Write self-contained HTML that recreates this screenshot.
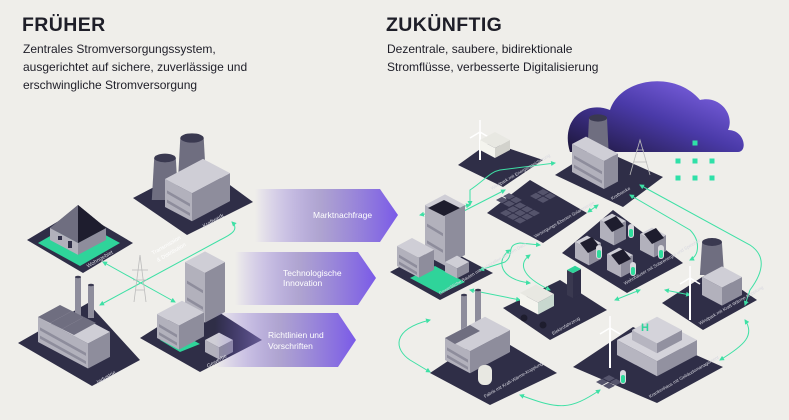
<!DOCTYPE html>
<html><head><meta charset="utf-8"><style>
html,body{margin:0;padding:0;background:#efeeea;}
body{width:789px;height:420px;overflow:hidden;position:relative;font-family:"Liberation Sans",sans-serif;color:#1e1e28;}
h1{position:absolute;margin:0;font-size:19.5px;font-weight:bold;letter-spacing:0.4px;}
p{position:absolute;margin:0;font-size:12px;line-height:18px;}
svg{position:absolute;left:0;top:0;}
</style></head><body>
<svg id="s" width="789" height="420" viewBox="0 0 789 420">
<defs>
<linearGradient id="ag" x1="0" x2="1" y1="0" y2="0"><stop offset="0" stop-color="#7b5ce6" stop-opacity="0"/><stop offset="0.45" stop-color="#9a8cc8" stop-opacity="0.75"/><stop offset="1" stop-color="#7a5ae8"/></linearGradient>
<linearGradient id="cg" x1="0" y1="1" x2="1" y2="0"><stop offset="0" stop-color="#1c1638"/><stop offset="0.5" stop-color="#4a3aa8"/><stop offset="1" stop-color="#8a6cf0"/></linearGradient>
<marker id="m" viewBox="0 0 10 10" refX="8" refY="5" markerWidth="5" markerHeight="5" orient="auto-start-reverse"><path d="M0,0L10,5L0,10z" fill="#3ee0a5"/></marker>
</defs>
<g id="plat" fill="#2f2e47"></g>
<g id="lines" fill="none" stroke="#3ee0a5" stroke-width="1"></g>
<g id="bld"></g>
<g fill="url(#ag)">
<polygon points="255,189 380,189 398,215 380,242 255,242"/>
<polygon points="235,252 358,252 376,278 358,305 235,305"/>
<polygon points="215,313 338,313 356,340 338,367 215,367"/>
</g>
<g fill="#fff" font-size="8.5">
<text x="313" y="218">Marktnachfrage</text>
<text x="283" y="276">Technologische</text><text x="283" y="286">Innovation</text>
<text x="268" y="338">Richtlinien und</text><text x="268" y="349">Vorschriften</text>
</g>
<g fill="#d8d8e0" font-size="5.5">
<text transform="translate(204,228) rotate(-30)">Kraftwerk</text>
<text transform="translate(88,268) rotate(-30)">Wohngebiet</text>
<text transform="translate(98,384) rotate(-30)">Industrie</text>
<text transform="translate(208,368) rotate(-30)">Gewerbe</text>
<text transform="translate(153,255) rotate(-30)" fill="#fff">Transmission</text>
<text transform="translate(158,262) rotate(-30)" fill="#fff">&amp; Distribution</text>
<text transform="translate(492,190) rotate(-30)" font-size="4.5">Windpark mit Energiespeicherung</text>
<text transform="translate(612,200) rotate(-30)" font-size="4.5">Kraftwerke</text>
<text transform="translate(535,238) rotate(-30)" font-size="4.5">Versorgungs-Ebenen Solarenergie</text>
<text transform="translate(625,285) rotate(-30)" font-size="4.5">Wohnhäuser mit Solarenergie und Speicher</text>
<text transform="translate(440,295) rotate(-30)" font-size="4.5">Gewerbliche Bauten mit Solarzellen auf dem Dach</text>
<text transform="translate(553,335) rotate(-30)" font-size="4.5">Elektrofahrzeug</text>
<text transform="translate(700,325) rotate(-30)" font-size="4.5">Windpark mit Kraft-Wärme-Kopplung</text>
<text transform="translate(485,398) rotate(-30)" font-size="4.5">Fabrik mit Kraft-Wärme-Kopplung</text>
<text transform="translate(650,398) rotate(-30)" font-size="4.5">Krankenhaus mit Gebäudemanagement</text>
</g>
</svg>
<h1 style="left:22px;top:14px">FRÜHER</h1>
<p style="left:23px;top:40px">Zentrales Stromversorgungssystem,<br>ausgerichtet auf sichere, zuverlässige und<br>erschwingliche Stromversorgung</p>
<h1 style="left:386px;top:14px">ZUKÜNFTIG</h1>
<p style="left:387px;top:40px">Dezentrale, saubere, bidirektionale<br>Stromflüsse, verbesserte Digitalisierung</p>
<script>
var NS="http://www.w3.org/2000/svg";
function el(g,t,a){var e=document.createElementNS(NS,t);for(var k in a)e.setAttribute(k,a[k]);document.getElementById(g).appendChild(e);return e;}
function poly(g,pts,f){el(g,"polygon",{points:pts.map(function(p){return p[0]+","+p[1]}).join(" "),fill:f});}
var U=[1,-0.53],V=[1,0.53];
function box(x,y,a,b,h,c,ns){c=c||["#cfced6","#b2b1bc","#8e8d9c"];
 var B=[x,y],A=[x+a*U[0],y+a*U[1]],C=[x+a*U[0]+b*V[0],y+a*U[1]+b*V[1]],D=[x+b*V[0],y+b*V[1]];
 function up(p){return [p[0],p[1]-h];}
 poly("bld",[B,D,up(D),up(B)],c[1]);
 poly("bld",[D,C,up(C),up(D)],c[2]);
 poly("bld",[up(B),up(A),up(C),up(D)],c[0]);
 if(!ns&&h>14){for(var i=1;i<3;i++){var t=h*i/3;poly("bld",[[B[0]+2,B[1]-t+2],[D[0]-2,D[1]-t+1],[D[0]-2,D[1]-t+4],[B[0]+2,B[1]-t+5]],"#8e8d9c");}}
}
function tower(cx,top,bot,w){poly("bld",[[cx-w*0.45,top],[cx+w*0.45,top],[cx+w*0.55,bot],[cx-w*0.55,bot]],"#6f6e80");el("bld","ellipse",{cx:cx,cy:top,rx:w*0.45,ry:w*0.18,fill:"#3a3950"});}
function chim(x,top,bot){el("bld","rect",{x:x,y:top,width:6,height:bot-top,fill:"#8e8d9c"});el("bld","ellipse",{cx:x+3,cy:top,rx:3,ry:1.3,fill:"#3a3950"});}
function turbine(x,y,h){el("bld","line",{x1:x,y1:y,x2:x,y2:y-h,stroke:"#fff","stroke-width":2});var t=y-h;
 [[0,-12],[10,6],[-10,6]].forEach(function(d){el("bld","line",{x1:x,y1:t,x2:x+d[0],y2:t+d[1],stroke:"#fff","stroke-width":1.5});});}
function batt(x,y){el("bld","rect",{x:x,y:y,width:6,height:14,rx:3,fill:"#d9d9de"});el("bld","rect",{x:x+1,y:y+5,width:4,height:8,rx:2,fill:"#2fdc9c"});}
function solar(x,y,n){for(var i=0;i<n;i++)for(var j=0;j<n;j++){var px=x+i*7+j*7,py=y-i*3.7+j*3.7;poly("bld",[[px,py],[px+6,py-3.2],[px+12,py],[px+6,py+3.2]],"#55546c");}}
var P=[
[[133,198],[200,163],[253,202],[187,235]],
[[27,240],[77,210],[133,243],[83,273]],
[[18,343],[88,303],[140,360],[92,386]],
[[140,338],[200,300],[262,340],[200,372]],
[[458,165],[490,142],[543,160],[503,187]],
[[555,175],[598,148],[663,177],[623,207]],
[[487,213],[530,180],[587,213],[543,243]],
[[562,253],[613,210],[683,263],[627,293]],
[[390,272],[440,245],[493,273],[440,300]],
[[503,308],[560,280],[607,310],[550,340]],
[[662,303],[713,270],[757,300],[703,330]],
[[430,373],[490,333],[557,373],[490,405]],
[[573,367],[633,327],[723,367],[657,403]]];
P.forEach(function(p){poly("plat",p,"#2f2e47");});
el("plat","path",{d:"M570,152 C560,120 585,100 610,110 C620,78 675,70 700,100 C720,95 735,115 728,130 C745,130 748,152 738,152 Z",fill:"url(#cg)"});
[[695,143],[678,161],[695,161],[712,161],[678,178],[695,178],[712,178]].forEach(function(d){el("plat","rect",{x:d[0]-2.5,y:d[1]-2.5,width:5,height:5,fill:"#2fe0a8"});});
var L=["M232,222 C240,230 230,235 220,240 L100,305","M103,262 L175,302",
"M505,190 L460,213","M555,163 L500,170 C490,172 485,180 470,190 L470,205","M470,205 L420,215",
"M598,205 L588,212","M620,228 L610,222","M540,245 L520,243 C505,245 515,255 505,262 L480,270",
"M530,255 C520,262 518,275 550,290","M510,250 C495,260 500,280 530,283",
"M470,290 L520,300","M615,300 L640,290","M665,290 L690,295",
"M630,195 L690,230 C700,240 700,255 690,260","M640,185 L750,245 C765,255 765,270 750,290 L745,305",
"M745,320 C755,335 745,345 720,360","M600,390 C570,410 560,410 520,395","M430,320 C390,330 395,350 410,360 L430,372"];
L.forEach(function(d){el("lines","path",{d:d,"marker-start":"url(#m)","marker-end":"url(#m)"});});
// LEFT
tower(165,158,200,24);tower(192,138,185,26);
box(165,207,38,27,28);
poly("bld",[[38,243],[78,220],[120,243],[80,266]],"#2fd49a");
box(50,240,28,28,12,null,1);
poly("bld",[[50,228],[78,205],[78,243]],"#6f6e80");poly("bld",[[78,243],[78,205],[106,228]],"#1e1d2e");
poly("bld",[[50,228],[78,205],[106,228],[78,213]],"#6f6e80");poly("bld",[[78,205],[106,228],[78,243]],"#1e1d2e");
el("bld","rect",{x:58,y:236,width:4,height:4,fill:"#2f2e47"});el("bld","rect",{x:68,y:241,width:4,height:7,fill:"#2f2e47"});
chim(75,277,318);chim(88,285,318);
box(38,342,22,50,25);
poly("bld",[[38,317],[60,305],[72,311],[50,323]],"#6f6e80");poly("bld",[[50,323],[72,311],[84,317],[62,329]],"#6f6e80");poly("bld",[[62,329],[84,317],[96,323],[74,335]],"#6f6e80");
el("bld","path",{d:"M134,302 L140,255 L146,302 M132,270 L148,270 M133,280 L147,280 M136,290 L144,290",stroke:"#bbb",fill:"none","stroke-width":0.8});
box(185,312,20,20,50);
poly("bld",[[160,340],[180,352],[200,344],[180,333]],"#2fd49a");
box(157,338,25,22,24);box(205,352,14,14,12,null,1);
// RIGHT
turbine(480,160,28);
box(480,150,15,15,10,["#e8e8e2","#f4f4ee","#d2d2cc"],1);
tower(598,118,160,20);
box(572,172,14,32,28);
el("bld","path",{d:"M630,175 L640,140 L650,175 M633,162 L647,162 M636,150 L644,150",stroke:"#bbb",fill:"none","stroke-width":0.8});
solar(500,213,3);solar(530,196,2);solar(496,200,2);
box(425,255,20,20,50);poly("bld",[[428,208],[444,200],[460,208],[444,216]],"#1e1d2e");
poly("bld",[[410,278],[440,294],[465,282],[435,266]],"#2fd49a");
box(397,266,15,22,20);box(445,272,12,12,10,null,1);
box(575,258,12,14,16,null,1);box(600,238,12,14,18,null,1);box(640,250,12,14,16,null,1);box(607,270,12,14,16,null,1);
poly("bld",[[604,222],[616,216],[624,226],[612,232]],"#1e1d2e");poly("bld",[[644,234],[656,228],[664,238],[652,244]],"#1e1d2e");poly("bld",[[580,243],[592,237],[600,247],[588,253]],"#1e1d2e");poly("bld",[[611,255],[623,249],[631,259],[619,265]],"#1e1d2e");
batt(628,224);batt(658,245);batt(596,245);batt(630,262);
box(520,305,16,18,12,["#e8e8e2","#f4f4ee","#c8d8cf"],1);
el("bld","circle",{cx:524,cy:318,r:3.5,fill:"#1e1d2e"});el("bld","circle",{cx:543,cy:325,r:3.5,fill:"#1e1d2e"});
box(567,295,8,6,25,["#2fd49a","#3a3950","#2f2e47"],1);
tower(712,242,275,22);box(702,295,20,20,18,null,1);turbine(690,320,42);
chim(461,295,340);chim(475,290,340);
box(445,360,40,25,22);poly("bld",[[445,338],[470,325],[480,331],[455,344]],"#6f6e80");
el("bld","rect",{x:478,y:365,width:14,height:20,rx:6,fill:"#e8e8e2"});
box(617,355,40,40,15,["#d4d3da","#b6b5c0","#9291a0"],1);box(632,340,25,25,10,["#d4d3da","#b6b5c0","#9291a0"],1);
el("bld","text",{x:641,y:331,"font-size":11,"font-weight":"bold",fill:"#2fd49a","font-family":"Liberation Sans"}).textContent="H";
turbine(610,368,40);solar(596,382,2);batt(620,370);
</script>
</body></html>
